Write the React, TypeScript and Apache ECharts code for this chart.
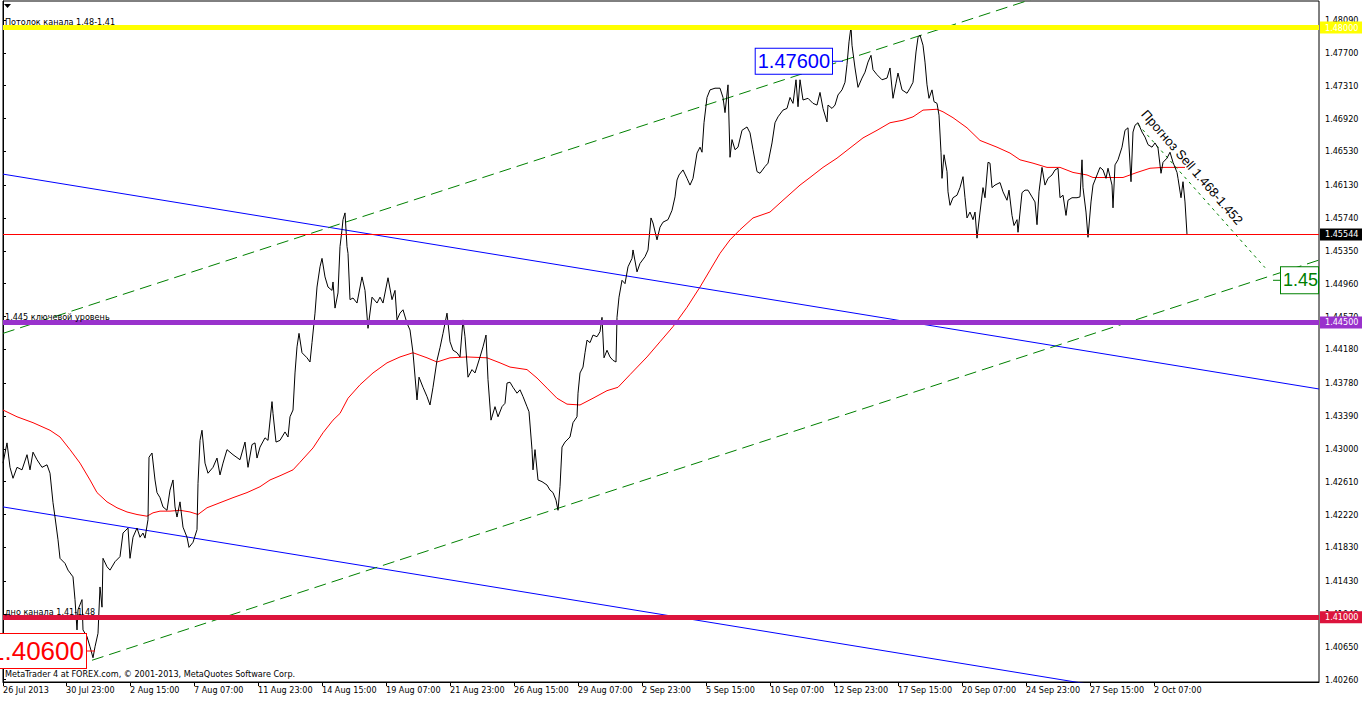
import React, { useEffect, useRef } from "react";
import * as echarts from "echarts";

// ---- data (bar index, price) ----
const CLOSE_POINTS: [number, number][] = [
  [0,1.4283],[4,1.4307],[7,1.4278],[10,1.4265],[14,1.4278],[19,1.4275],[24,1.4293],[27,1.4275],[30,1.4296],[34,1.4287],[39,1.4278],[44,1.4281],[47,1.4271],[50,1.4236],[52,1.4219],[55,1.4192],[57,1.4170],[62,1.4164],[65,1.4156],[70,1.4148],[72,1.4121],[74,1.4085],[75,1.4109],[79,1.4121],[80,1.4085],[84,1.4077],[87,1.4065],[90,1.4052],[92,1.4065],[95,1.4081],[97,1.4136],[99,1.4112],[100,1.4170],[104,1.4160],[107,1.4156],[112,1.4166],[117,1.4172],[120,1.4200],[125,1.4206],[127,1.4170],[130,1.4195],[134,1.4206],[137,1.4195],[140,1.4200],[142,1.4194],[145,1.4216],[146,1.4290],[149,1.4295],[152,1.4263],[154,1.4248],[157,1.4242],[160,1.4231],[164,1.4227],[167,1.4251],[170,1.4263],[172,1.4231],[174,1.4219],[177,1.4237],[180,1.4207],[184,1.4195],[186,1.4183],[190,1.4189],[194,1.4204],[195,1.4259],[197,1.4310],[199,1.4322],[202,1.4283],[205,1.4271],[210,1.4278],[214,1.4289],[217,1.4269],[220,1.4283],[224,1.4299],[230,1.4293],[237,1.4287],[242,1.4308],[245,1.4278],[249,1.4305],[252,1.4307],[254,1.4289],[257,1.4302],[262,1.4313],[265,1.4310],[269,1.4356],[270,1.4342],[273,1.4308],[277,1.4310],[282,1.4320],[285,1.4314],[287,1.4338],[290,1.4346],[292,1.4390],[294,1.4421],[296,1.4437],[299,1.4414],[304,1.4408],[307,1.4403],[309,1.4426],[312,1.4461],[314,1.4492],[317,1.4516],[319,1.4526],[322,1.4504],[325,1.4492],[329,1.4488],[330,1.4498],[332,1.4467],[335,1.4485],[337,1.4540],[339,1.4560],[340,1.4572],[342,1.4580],[344,1.4540],[345,1.4532],[347,1.4477],[350,1.4479],[354,1.4473],[359,1.4504],[362,1.4488],[365,1.4443],[369,1.4480],[374,1.4473],[377,1.4480],[380,1.4473],[385,1.4503],[389,1.4477],[392,1.4488],[394,1.4453],[397,1.4461],[400,1.4465],[404,1.4449],[407,1.4441],[410,1.4414],[414,1.4358],[416,1.4385],[420,1.4373],[424,1.4362],[427,1.4352],[430,1.4373],[434,1.4405],[437,1.4420],[440,1.4437],[444,1.4461],[447,1.4427],[450,1.4417],[454,1.4414],[457,1.4409],[460,1.4453],[462,1.4433],[465,1.4385],[469,1.4394],[472,1.4390],[477,1.4409],[480,1.4421],[483,1.4435],[485,1.4382],[488,1.4334],[492,1.4350],[495,1.4338],[499,1.4350],[502,1.4354],[504,1.4378],[507,1.4379],[510,1.4373],[514,1.4366],[517,1.4370],[520,1.4362],[524,1.4350],[526,1.4344],[529,1.4299],[530,1.4275],[532,1.4299],[535,1.4263],[539,1.4261],[544,1.4257],[547,1.4251],[550,1.4248],[553,1.4239],[555,1.4227],[557,1.4255],[559,1.4302],[562,1.4308],[567,1.4314],[570,1.4331],[574,1.4338],[575,1.4366],[577,1.4390],[580,1.4397],[582,1.4414],[584,1.4429],[587,1.4426],[590,1.4435],[594,1.4433],[597,1.4439],[599,1.4456],[601,1.4408],[604,1.4417],[607,1.4409],[610,1.4405],[613,1.4403],[614,1.4456],[616,1.4480],[619,1.4500],[622,1.4496],[625,1.4516],[629,1.4526],[630,1.4536],[634,1.4510],[637,1.4520],[642,1.4528],[645,1.4536],[648,1.4574],[650,1.4568],[654,1.4548],[657,1.4563],[660,1.4569],[665,1.4572],[669,1.4583],[672,1.4599],[674,1.4619],[676,1.4625],[680,1.4631],[684,1.4621],[687,1.4613],[690,1.4621],[694,1.4651],[697,1.4658],[699,1.4652],[701,1.4687],[704,1.4717],[707,1.4726],[712,1.4728],[717,1.4728],[720,1.4717],[722,1.4699],[725,1.4732],[727,1.4646],[729,1.4667],[732,1.4655],[735,1.4658],[739,1.4678],[744,1.4682],[747,1.4675],[750,1.4655],[754,1.4629],[757,1.4627],[762,1.4635],[765,1.4639],[769,1.4663],[772,1.4687],[775,1.4694],[780,1.4702],[784,1.4704],[787,1.4717],[790,1.4710],[793,1.4738],[795,1.4706],[797,1.4738],[800,1.4714],[805,1.4716],[810,1.4710],[814,1.4708],[817,1.4723],[820,1.4704],[824,1.4688],[825,1.4708],[829,1.4704],[832,1.4708],[835,1.4720],[839,1.4726],[842,1.4735],[844,1.4756],[846,1.4783],[848,1.4801],[849,1.4779],[852,1.4752],[855,1.4729],[859,1.4740],[862,1.4747],[865,1.4759],[868,1.4767],[870,1.4750],[874,1.4744],[879,1.4738],[884,1.4740],[887,1.4752],[890,1.4716],[893,1.4734],[895,1.4746],[899,1.4726],[904,1.4722],[907,1.4728],[910,1.4735],[913,1.4771],[915,1.4788],[917,1.4791],[920,1.4779],[922,1.4759],[924,1.4732],[926,1.4716],[929,1.4726],[931,1.4712],[934,1.4710],[936,1.4696],[938,1.4652],[939,1.4621],[941,1.4649],[944,1.4629],[945,1.4605],[947,1.4589],[950,1.4598],[954,1.4601],[957,1.4610],[960,1.4623],[962,1.4598],[964,1.4574],[967,1.4581],[970,1.4572],[972,1.4581],[974,1.4550],[977,1.4581],[980,1.4610],[982,1.4598],[985,1.4640],[987,1.4639],[989,1.4610],[992,1.4613],[997,1.4616],[1000,1.4605],[1004,1.4595],[1006,1.4607],[1009,1.4577],[1011,1.4565],[1014,1.4572],[1015,1.4557],[1019,1.4604],[1022,1.4607],[1025,1.4607],[1029,1.4599],[1032,1.4593],[1034,1.4566],[1036,1.4605],[1039,1.4634],[1042,1.4613],[1045,1.4621],[1049,1.4625],[1052,1.4631],[1055,1.4633],[1057,1.4598],[1060,1.4601],[1063,1.4577],[1065,1.4595],[1069,1.4598],[1074,1.4598],[1077,1.4599],[1079,1.4643],[1080,1.4610],[1083,1.4581],[1085,1.4551],[1088,1.4593],[1090,1.4613],[1094,1.4625],[1097,1.4634],[1100,1.4631],[1103,1.4621],[1105,1.4633],[1109,1.4613],[1110,1.4586],[1112,1.4637],[1115,1.4643],[1119,1.4658],[1122,1.4678],[1125,1.4681],[1128,1.4617],[1130,1.4676],[1132,1.4684],[1135,1.4687],[1139,1.4676],[1142,1.4670],[1145,1.4661],[1149,1.4658],[1152,1.4663],[1155,1.4657],[1158,1.4627],[1160,1.4640],[1164,1.4645],[1167,1.4652],[1170,1.4640],[1174,1.4628],[1175,1.4621],[1178,1.4598],[1180,1.4617],[1182,1.4593],[1184,1.45544]
];

const MA_POINTS: [number, number][] = [
  [0,1.4346],[14,1.4338],[30,1.4331],[47,1.4322],[57,1.4314],[67,1.4299],[77,1.4283],[87,1.4263],[94,1.4248],[104,1.4237],[114,1.4230],[124,1.4225],[134,1.4222],[144,1.4220],[150,1.4224],[157,1.4226],[167,1.4226],[177,1.4227],[187,1.4225],[195,1.4222],[204,1.4230],[217,1.4236],[230,1.4242],[244,1.4248],[257,1.4255],[267,1.4263],[277,1.4268],[290,1.4275],[297,1.4284],[310,1.4301],[320,1.4319],[330,1.4334],[337,1.4342],[345,1.4360],[357,1.4376],[370,1.4390],[384,1.4402],[397,1.4409],[410,1.4414],[424,1.4408],[434,1.4403],[447,1.4408],[464,1.4409],[484,1.4408],[497,1.4402],[507,1.4397],[524,1.4394],[534,1.4384],[544,1.4372],[554,1.4360],[564,1.4353],[577,1.4352],[590,1.4360],[604,1.4369],[615,1.4373],[627,1.4388],[644,1.4409],[657,1.4427],[670,1.4445],[684,1.4468],[697,1.4492],[707,1.4512],[717,1.4532],[727,1.4548],[737,1.4560],[750,1.4574],[767,1.4581],[780,1.4595],[797,1.4613],[807,1.4622],[820,1.4634],[834,1.4645],[847,1.4657],[860,1.4669],[874,1.4678],[887,1.4687],[900,1.4690],[910,1.4694],[920,1.4702],[934,1.4703],[940,1.4700],[950,1.4693],[964,1.4681],[977,1.4666],[994,1.4658],[1007,1.4651],[1017,1.4643],[1030,1.4639],[1044,1.4634],[1057,1.4634],[1070,1.4628],[1084,1.4625],[1090,1.4622],[1107,1.4622],[1120,1.4622],[1134,1.4628],[1147,1.4633],[1160,1.4634],[1177,1.4634],[1182,1.4634]
];

const BLUE_UPPER: [number, number][] = [[0, 1.4626], [1316, 1.4371]];
const BLUE_LOWER: [number, number][] = [[0, 1.4231], [1316, 1.3976]];
const CHANNEL_TOP: [number, number][] = [[0, 1.4437], [1100, 1.4861]];
const CHANNEL_BOTTOM: [number, number][] = [[89, 1.4049], [1316, 1.4524]];
const FORECAST: [number, number][] = [[1135, 1.4685], [1262, 1.4515]];

const LEVEL_VALUES = [1.48, 1.445, 1.41];
const LEVEL_NOTES = ["Потолок канала 1.48-1.41", "1.445 ключевой уровень", "дно канала 1.41-1.48"];
const BID = 1.45544;

const X_TICK_INDEX = [0, 63, 127, 191, 255, 319, 383, 447, 511, 575, 639, 703, 767, 831, 895, 959, 1023, 1087, 1151];
const X_TICK_LABELS = ["26 Jul 2013", "30 Jul 23:00", "2 Aug 15:00", "7 Aug 07:00", "11 Aug 23:00", "14 Aug 15:00", "19 Aug 07:00", "21 Aug 23:00", "26 Aug 15:00", "29 Aug 07:00", "2 Sep 23:00", "5 Sep 15:00", "10 Sep 07:00", "12 Sep 23:00", "17 Sep 15:00", "20 Sep 07:00", "24 Sep 23:00", "27 Sep 15:00", "2 Oct 07:00"];
const Y_TICK_LABELS = ["1.48090", "1.47700", "1.47310", "1.46920", "1.46530", "1.46130", "1.45740", "1.45350", "1.44960", "1.44570", "1.44180", "1.43780", "1.43390", "1.43000", "1.42610", "1.42220", "1.41830", "1.41430", "1.41040", "1.40650", "1.40260"];

const PRICE_TAG_COORDS: [number, number][] = [[834.5, 1.476], [87.5, 1.406], [1274, 1.45]];
const PRICE_TAG_TEXTS = ["1.47600", "1.40600", "1.45"];
const FORECAST_NOTE = "Прогноз Sell 1.468-1.452";
const FORECAST_NOTE_AT: [number, number] = [1141, 1.4700];
const COPYRIGHT = "MetaTrader 4 at FOREX.com, © 2001-2013, MetaQuotes Software Corp.";

const X_MIN = 0, X_MAX = 1316;
const Y_MIN = 1.40232, Y_MAX = 1.48315;

const SMALL_FONT = "'DejaVu Sans Condensed', 'DejaVu Sans', sans-serif";
const BIG_FONT = "'Liberation Sans', Arial, sans-serif";

export default function App() {
  const ref = useRef<HTMLDivElement>(null);
  useEffect(() => {
    if (!ref.current) return;
    const chart = echarts.init(ref.current, undefined, { renderer: "svg" });
    const levelColors = ["#FFFF00", "#9932CC", "#DC143C"];

    const markLineData: any[] = [];
    LEVEL_VALUES.forEach((v, k) => {
      markLineData.push({
        yAxis: v,
        lineStyle: { color: levelColors[k], width: 5, type: "solid" },
        label: {
          show: true, position: "insideStartTop", formatter: LEVEL_NOTES[k],
          color: "#000", fontSize: 9, fontFamily: SMALL_FONT, distance: [2, 1],
        },
      });
      markLineData.push({
        yAxis: v,
        lineStyle: { color: "rgba(0,0,0,0)", width: 0 },
        label: {
          show: true, position: "end", formatter: v.toFixed(5), color: "#fff",
          backgroundColor: levelColors[k], fontSize: 9, fontFamily: SMALL_FONT,
          padding: [1, 6, 1, 5], distance: 1, lineHeight: 10,
        },
      });
    });
    markLineData.push({
      yAxis: BID,
      lineStyle: { color: "#FF0000", width: 1, type: "solid" },
      label: {
        show: true, position: "end", formatter: BID.toFixed(5), color: "#fff",
        backgroundColor: "#000", fontSize: 9, fontFamily: SMALL_FONT,
        padding: [1, 6, 1, 5], distance: 1, lineHeight: 10,
      },
    });

    const tagColors = ["#0000FF", "#FF0000", "#008000"];
    const tagSizes = [11, 9, 8];
    const tagFont = [20, 26, 18];
    const tagLine = [21, 30, 22];
    const tagPos = ["left", "left", "right"];
    const markPointData: any[] = PRICE_TAG_COORDS.map((c, k) => ({
      coord: c,
      symbol: "rect",
      symbolSize: [tagSizes[k], 1],
      itemStyle: { color: tagColors[k] },
      label: {
        show: true, position: tagPos[k], distance: 0, formatter: PRICE_TAG_TEXTS[k],
        color: tagColors[k], fontSize: tagFont[k], fontFamily: BIG_FONT,
        backgroundColor: "#fff", borderColor: tagColors[k], borderWidth: 1,
        padding: k === 2 ? [2, 0, 2, 2] : [2, 2, 2, 2], lineHeight: tagLine[k],
      },
    }));
    markPointData.push({
      coord: FORECAST_NOTE_AT,
      symbol: "circle",
      symbolSize: 1,
      itemStyle: { color: "rgba(0,0,0,0)" },
      label: {
        show: true, position: "inside", formatter: FORECAST_NOTE, rotate: -49,
        align: "left", verticalAlign: "middle", color: "#000", fontSize: 13,
        fontFamily: BIG_FONT,
      },
    });

    const trend = (data: [number, number][], color: string, type: any) => ({
      type: "line", data, symbol: "none", silent: true, clip: true,
      lineStyle: { color, width: 1, type }, z: 2,
    });

    chart.setOption({
      animation: false,
      backgroundColor: "#fff",
      grid: { left: 3, right: 43, top: 1, bottom: 19, show: true, borderColor: "#000", borderWidth: 1, backgroundColor: "transparent" },
      xAxis: {
        type: "value", min: X_MIN, max: X_MAX,
        axisLine: { show: true, lineStyle: { color: "#000", width: 1 } },
        axisTick: { show: true, customValues: X_TICK_INDEX, length: 4, lineStyle: { color: "#000" } },
        axisLabel: {
          show: true, customValues: X_TICK_INDEX, align: "left", margin: 3,
          color: "#000", fontSize: 9, fontFamily: SMALL_FONT,
          formatter: (v: number) => X_TICK_LABELS[X_TICK_INDEX.indexOf(v)] ?? "",
        },
        splitLine: { show: false },
      },
      yAxis: {
        type: "value", position: "right", min: Y_MIN, max: Y_MAX, scale: true,
        axisLine: { show: true, lineStyle: { color: "#000", width: 1 } },
        axisTick: { show: true, customValues: Y_TICK_LABELS.map(Number), length: 3, lineStyle: { color: "#000" } },
        axisLabel: {
          show: true, customValues: Y_TICK_LABELS.map(Number), margin: 6,
          color: "#000", fontSize: 9, fontFamily: SMALL_FONT, padding: [0, 0, 3, 0],
          formatter: (v: number) => v.toFixed(5),
        },
        splitLine: { show: false },
      },
      graphic: [
        { type: "polygon", shape: { points: [[4, 4], [11, 4], [7.5, 8]] }, style: { fill: "#000" }, silent: true },
        { type: "text", x: 5, y: 674, style: { text: COPYRIGHT, fill: "#000", fontSize: 9, fontFamily: SMALL_FONT, textVerticalAlign: "middle" }, silent: true, z: 10 },
      ],
      series: [
        { ...trend(MA_POINTS, "#FF0000", "solid") },
        { ...trend(BLUE_UPPER, "#0000FF", "solid") },
        { ...trend(BLUE_LOWER, "#0000FF", "solid") },
        { ...trend(CHANNEL_TOP, "#008000", [12, 6]) },
        { ...trend(CHANNEL_BOTTOM, "#008000", [12, 6]) },
        { ...trend(FORECAST, "#008000", [3, 4]) },
        {
          type: "line", data: CLOSE_POINTS, symbol: "none", silent: true, clip: false,
          lineStyle: { color: "#000", width: 1 }, z: 3,
          markLine: { silent: true, symbol: ["none", "none"], precision: 5, animation: false, data: markLineData },
          markPoint: { silent: true, animation: false, data: markPointData },
        },
      ],
    });
    return () => chart.dispose();
  }, []);
  return <div ref={ref} style={{ position: "fixed", left: 0, top: 0, width: 1362, height: 701, background: "#fff" }} />;
}
